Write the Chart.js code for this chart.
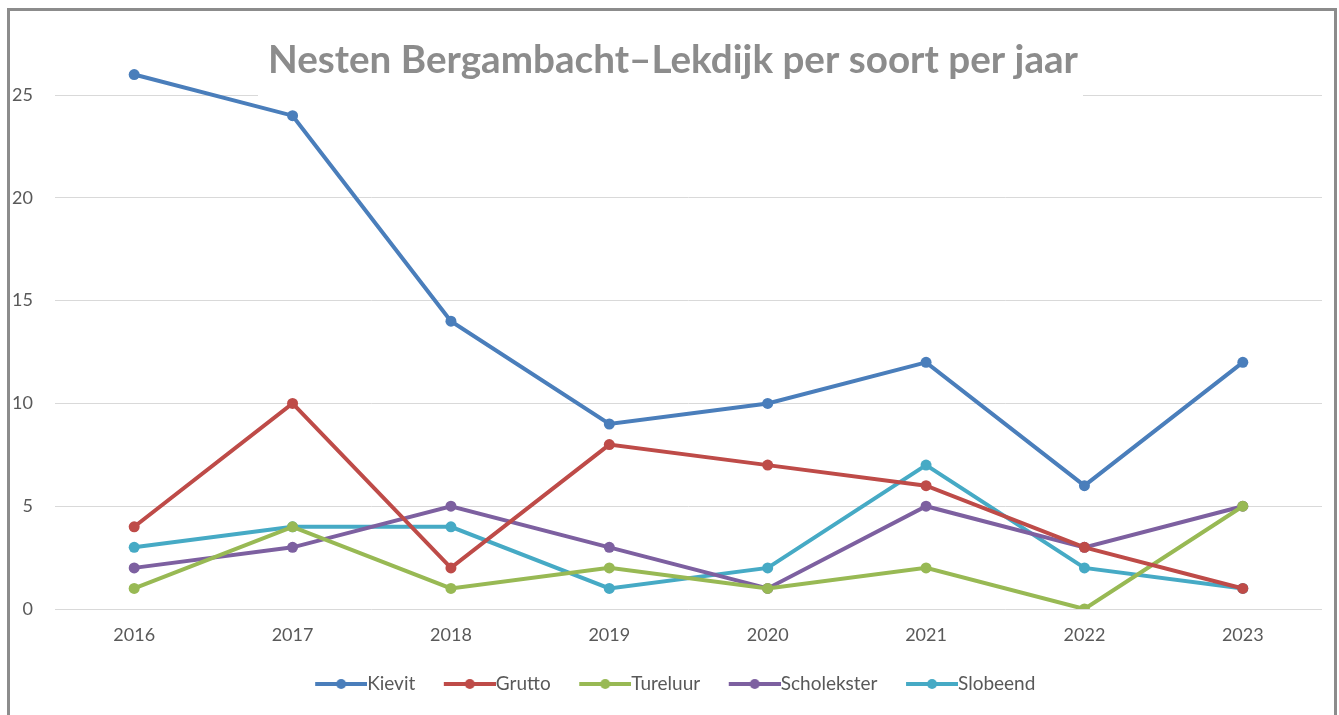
<!DOCTYPE html>
<html><head><meta charset="utf-8">
<script src="https://cdn.jsdelivr.net/npm/chart.js@4/dist/chart.umd.min.js"></script>
<style>
html,body{margin:0;padding:0;background:#fff;overflow:hidden}
#wrap{position:relative;width:1339px;height:715px}
#frame{position:absolute;left:7px;top:8px;width:1330px;height:740px;border:3px solid #8c8c8c;pointer-events:none;box-sizing:border-box}
canvas{position:absolute;left:0;top:0}
</style></head><body>
<div id="wrap"><canvas id="c" width="1339" height="715"></canvas><div id="frame"></div></div>
<script>
const chartTitle = 'Nesten Bergambacht\u2013Lekdijk per soort per jaar';
const years = ['2016','2017','2018','2019','2020','2021','2022','2023'];
const seriesNames = ['Kievit','Grutto','Tureluur','Scholekster','Slobeend'];
const kievit      = [26, 24, 14, 9, 10, 12, 6, 12];
const grutto      = [4, 10, 2, 8, 7, 6, 3, 1];
const tureluur    = [1, 4, 1, 2, 1, 2, 0, 5];
const scholekster = [2, 3, 5, 3, 1, 5, 3, 5];
const slobeend    = [3, 4, 4, 1, 2, 7, 2, 1];
const yTicks = [0, 5, 10, 15, 20, 25];
const colors = ['#4a7ebb','#be4b48','#98b954','#7d60a0','#46aac5'];

const FONT = 'Lato, "Open Sans", sans-serif';
const LEGEND_FS = 19;
const ICON_EXTRA = 28; // transparent spacing left of each legend icon

function legendIcon(color){
  const cv = document.createElement('canvas');
  cv.width = 52 + ICON_EXTRA; cv.height = 14;
  const g = cv.getContext('2d');
  g.strokeStyle = color; g.lineWidth = 4; g.lineCap = 'butt';
  g.beginPath(); g.moveTo(ICON_EXTRA,7); g.lineTo(ICON_EXTRA+52,7); g.stroke();
  g.fillStyle = color; g.beginPath(); g.arc(ICON_EXTRA+26,7,5,0,Math.PI*2); g.fill();
  return cv;
}

const allData = [kievit, grutto, tureluur, scholekster, slobeend];
const datasets = seriesNames.map((n,i)=>({
  label:n, data: allData[i], borderColor: colors[i], backgroundColor: colors[i],
  borderWidth: 4, pointRadius: 5.5, pointHoverRadius: 5.5, pointBorderWidth: 0,
  pointStyle: 'circle', tension: 0, legendIcon: legendIcon(colors[i])
}));

const titlePlugin = {
  id:'boxTitle',
  beforeDatasetsDraw(chart){
    const ctx = chart.ctx;
    ctx.save();
    ctx.fillStyle = '#fff';
    ctx.fillRect(258, 28, 825, 70);
    ctx.font = 'bold 39px ' + FONT;
    ctx.fillStyle = '#8c8c8c';
    ctx.textBaseline = 'alphabetic';
    const w = ctx.measureText(chartTitle).width;
    const sx = 810 / w;
    ctx.translate(268, 73);
    ctx.scale(sx, 1);
    ctx.fillText(chartTitle, 0, 0);
    ctx.restore();
  }
};

new Chart(document.getElementById('c'), {
  type:'line',
  data:{labels: years, datasets},
  plugins:[titlePlugin],
  options:{
    responsive:false, animation:false, devicePixelRatio:1,
    layout:{padding:{top:54,right:17,left:10,bottom:11.5}},
    plugins:{
      tooltip:{enabled:false},
      title:{display:false},
      legend:{
        position:'bottom',
        labels:{
          usePointStyle:true, pointStyleWidth:52+ICON_EXTRA-LEGEND_FS, boxHeight:14,
          padding:10, color:'#595959', font:{family:FONT,size:LEGEND_FS},
          generateLabels(chart){
            return chart.data.datasets.map((d,i)=>({
              text:d.label, pointStyle:d.legendIcon, fillStyle:d.borderColor,
              strokeStyle:d.borderColor, lineWidth:0, fontColor:'#595959',
              hidden:false, datasetIndex:i
            }));
          }
        }
      }
    },
    scales:{
      x:{
        offset:true,
        grid:{display:false, drawTicks:false},
        border:{display:false},
        ticks:{color:'#595959', font:{family:FONT,size:18}, padding:15, maxRotation:0},
        afterFit(s){ s.height = 55.5; }
      },
      y:{
        min:0, max:27,
        grid:{color:'#d9d9d9', drawTicks:false, lineWidth:1},
        border:{display:false},
        afterBuildTicks(s){ s.ticks = yTicks.map(v=>({value:v})); },
        ticks:{color:'#595959', font:{family:FONT,size:18}, padding:22},
        afterFit(s){ s.width = 45; }
      }
    }
  }
});
</script>
</body></html>
